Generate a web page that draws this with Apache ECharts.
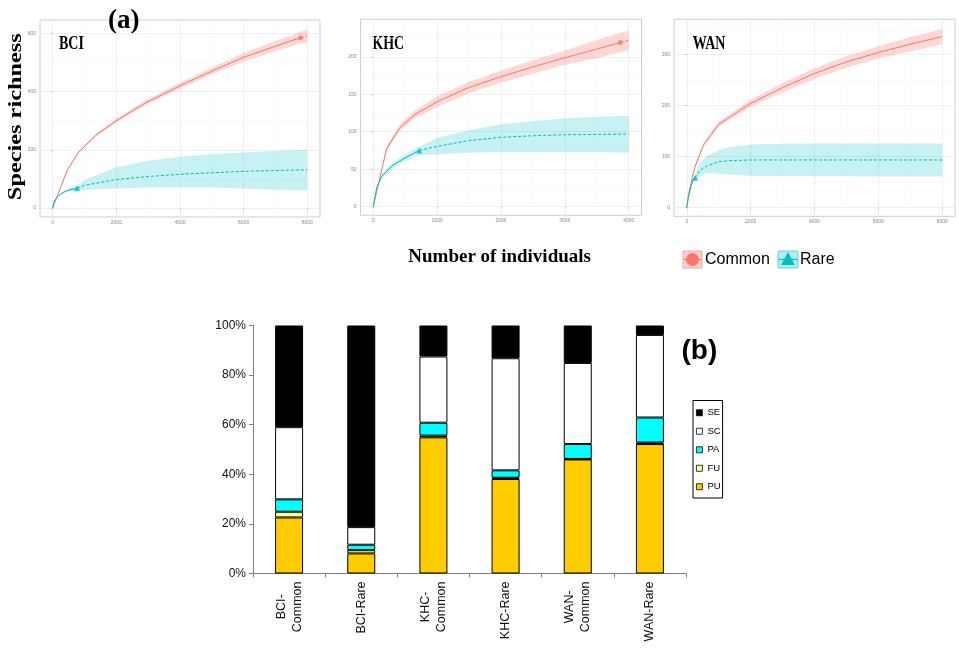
<!DOCTYPE html>
<html>
<head>
<meta charset="utf-8">
<script src="https://cdn.jsdelivr.net/npm/echarts@6/dist/echarts.min.js"></script>
<style>
  html, body { margin: 0; padding: 0; background: #fff; }
  #chart { width: 959px; height: 662px; }
</style>
</head>
<body>
<div id="chart"></div>
<script>
// ---------- (a) rarefaction / extrapolation of species richness ----------
// BCI
const bciCommonN   = [0, 452, 818, 1343, 2000, 2915, 4000, 5012, 6000, 7107, 7789, 8000];
const bciCommonEst = [0, 129, 192, 249, 300, 361, 420, 471, 518, 560, 585, 590];
const bciCommonLo  = [0, 126, 188, 244, 294, 353, 410, 459, 503, 542, 564, 567];
const bciCommonHi  = [0, 132, 196, 254, 306, 369, 430, 483, 533, 578, 606, 613];
const bciCommonObs = 7789;

const bciRareN   = [0, 31, 85, 242, 452, 767, 1000, 2000, 3000, 4000, 5000, 6000, 7000, 8000];
const bciRareEst = [0, 19, 31, 48, 60, 68, 78, 97.6, 108, 116, 121, 126, 129, 131];
const bciRareLo  = [0, 18, 29, 45, 56, 60, 62, 67, 70, 71, 70, 67, 63, 60];
const bciRareHi  = [0, 20, 33, 51, 64, 76, 96, 140, 162, 176, 185, 191, 196, 200];
const bciRareObs = 767;

// KHC
const khcCommonN   = [0, 209, 418, 653, 1000, 1488, 1984, 2480, 2999, 3495, 3869, 4000];
const khcCommonEst = [0, 77.7, 105.3, 123, 140, 158.7, 173, 186, 198.7, 210, 219, 222];
const khcCommonLo  = [0, 75, 101, 118, 133, 151, 165, 177, 189, 198, 206, 209];
const khcCommonHi  = [0, 80.5, 109.5, 128, 147, 166.5, 181, 195, 208.5, 222, 232, 235];
const khcCommonObs = 3869;

const khcRareN   = [0, 53, 131, 288, 496, 721, 1000, 1488, 1984, 2480, 2999, 3495, 4000];
const khcRareEst = [0, 25.3, 40.4, 54, 65, 75, 80.4, 88, 92.4, 94.6, 96, 96.4, 96.9];
const khcRareLo  = [0, 23.5, 37.5, 50.5, 60.5, 69, 69.5, 72, 73, 73, 73, 72.8, 72];
const khcRareHi  = [0, 27, 43, 57.5, 69.5, 80, 91.5, 101.5, 109.5, 114, 117.5, 120, 121];
const khcRareObs = 721;

// WAN
const wanCommonN   = [0, 50, 103, 260, 521, 1000, 2002, 3004, 3995, 5007, 5998, 6989, 8000];
const wanCommonEst = [0, 24, 40, 80, 122, 163, 204, 235, 262.6, 285.5, 303.9, 320, 335];
const wanCommonLo  = [0, 23, 38.5, 77, 119, 158, 197, 226, 252, 274, 292, 306, 320];
const wanCommonHi  = [0, 25, 41.5, 83, 126, 168, 211, 244, 273, 297, 316, 334, 350];
const wanCommonObs = null; // observed size lies beyond the plotted range

const wanRareN   = [0, 51, 124, 187, 261, 400, 625, 1000, 1355, 2002, 3000, 4000, 5000, 6000, 7000, 8000];
const wanRareEst = [0, 19, 38.7, 51.7, 58, 72, 81, 89.7, 91.7, 93, 93, 93, 93, 93, 93, 93];
const wanRareLo  = [0, 18, 36.5, 48.5, 53, 61, 68, 66, 64, 62, 61.5, 61.3, 61, 60.8, 60.7, 60.6];
const wanRareHi  = [0, 20, 41, 55, 63, 86, 101, 112, 118.4, 123.6, 125, 125.5, 125.5, 125.5, 125.5, 125.5];
const wanRareObs = 261;

// axis breaks of the three panels
const bciXTicks = [0, 2000, 4000, 6000, 8000];
const bciXMinor = [1000, 3000, 5000, 7000];
const bciYTicks = [0, 200, 400, 600];
const bciYMinor = [100, 300, 500];
const khcXTicks = [0, 1000, 2000, 3000, 4000];
const khcXMinor = [500, 1500, 2500, 3500];
const khcYTicks = [0, 50, 100, 150, 200];
const khcYMinor = [25, 75, 125, 175, 225];
const wanXTicks = [0, 2000, 4000, 6000, 8000];
const wanXMinor = [1000, 3000, 5000, 7000];
const wanYTicks = [0, 100, 200, 300];
const wanYMinor = [50, 150, 250, 350];

// ---------- (b) feeding-guild composition ----------
const barCategories = ['BCI-Common', 'BCI-Rare', 'KHC-Common', 'KHC-Rare', 'WAN-Common', 'WAN-Rare'];
const guildPU = [22.6, 8.1, 54.9, 38.1, 46.0, 52.2];
const guildFU = [2.3, 1.3, 0.7, 0.5, 0.2, 0.6];
const guildPA = [5.0, 2.2, 5.2, 3.0, 6.0, 10.1];
const guildSC = [29.1, 7.1, 26.7, 45.2, 32.7, 33.3];
const guildSE = [41.0, 81.3, 12.5, 13.2, 15.1, 3.8];
const percentTicks = [0, 20, 40, 60, 80, 100];

// ---------- styling ----------
const RED = '#F8766D';
const CYAN = '#00BFC4';
const SERIF = "'Liberation Serif', 'Times New Roman', serif";
const SANS = "'Liberation Sans', Arial, sans-serif";

const panels = [
  { name: 'BCI', grid: { left: 40, top: 20, width: 280, height: 197 },
    xRange: [-400, 8400], yRange: [-31, 646],
    xMajor: bciXTicks, xMinor: bciXMinor, yMajor: bciYTicks, yMinor: bciYMinor,
    common: { n: bciCommonN, est: bciCommonEst, lo: bciCommonLo, hi: bciCommonHi, obs: bciCommonObs },
    rare:   { n: bciRareN, est: bciRareEst, lo: bciRareLo, hi: bciRareHi, obs: bciRareObs },
    label: { x: 59, y: 43.7 } },
  { name: 'KHC', grid: { left: 360.5, top: 19.3, width: 281, height: 196 },
    xRange: [-200, 4200], yRange: [-11.5, 250],
    xMajor: khcXTicks, xMinor: khcXMinor, yMajor: khcYTicks, yMinor: khcYMinor,
    common: { n: khcCommonN, est: khcCommonEst, lo: khcCommonLo, hi: khcCommonHi, obs: khcCommonObs },
    rare:   { n: khcRareN, est: khcRareEst, lo: khcRareLo, hi: khcRareHi, obs: khcRareObs },
    label: { x: 372.3, y: 43.7 } },
  { name: 'WAN', grid: { left: 674, top: 19.3, width: 281, height: 197 },
    xRange: [-400, 8400], yRange: [-17.5, 369],
    xMajor: wanXTicks, xMinor: wanXMinor, yMajor: wanYTicks, yMinor: wanYMinor,
    common: { n: wanCommonN, est: wanCommonEst, lo: wanCommonLo, hi: wanCommonHi, obs: wanCommonObs },
    rare:   { n: wanRareN, est: wanRareEst, lo: wanRareLo, hi: wanRareHi, obs: wanRareObs },
    label: { x: 692.7, y: 43.7 } }
];

const grids = [];
const xAxes = [];
const yAxes = [];
const series = [];

// confidence band: one polygon built from the upper bound forwards and the lower bound backwards
function ribbonRenderer(fill) {
  return function (params, api) {
    if (params.dataIndexInside > 0) return null;
    const count = params.dataInsideLength;
    const upper = [];
    const lower = [];
    for (let i = 0; i < count; i++) {
      upper.push(api.coord([api.value(0, i), api.value(2, i)]));
      lower.push(api.coord([api.value(0, i), api.value(1, i)]));
    }
    return {
      type: 'polygon',
      shape: { points: upper.concat(lower.reverse()) },
      style: { fill: fill },
      silent: true
    };
  };
}

function lineSeries(axisIdx, data, color, dashed) {
  return {
    type: 'line', xAxisIndex: axisIdx, yAxisIndex: axisIdx,
    data: data, showSymbol: false, symbol: 'none', smooth: false,
    lineStyle: { color: color, width: 1, type: dashed ? [3, 2] : 'solid' },
    silent: true, z: 3
  };
}

// interpolated part solid, extrapolated part dashed, observed sample marked
function curveSeries(axisIdx, g, color, fill, symbol, symbolSize) {
  const pts = g.n.map((v, i) => [v, g.est[i]]);
  const band = g.n.map((v, i) => [v, g.lo[i], g.hi[i]]);
  const obsIdx = g.obs == null ? pts.length - 1 : g.n.indexOf(g.obs);
  const out = [];
  out.push({
    type: 'custom', xAxisIndex: axisIdx, yAxisIndex: axisIdx,
    data: band, encode: { x: 0, y: [1, 2] },
    renderItem: ribbonRenderer(fill), silent: true, z: 1
  });
  out.push(lineSeries(axisIdx, pts.slice(0, obsIdx + 1), color, false));
  if (obsIdx < pts.length - 1) out.push(lineSeries(axisIdx, pts.slice(obsIdx), color, true));
  if (g.obs != null) {
    out.push({
      type: 'scatter', xAxisIndex: axisIdx, yAxisIndex: axisIdx,
      data: [pts[obsIdx]], symbol: symbol, symbolSize: symbolSize,
      itemStyle: { color: color }, silent: true, z: 4
    });
  }
  return out;
}

const plainNumber = v => String(v);

panels.forEach((p, gi) => {
  grids.push(Object.assign({ show: true, borderColor: '#cfcfcf', borderWidth: 1, backgroundColor: '#fff' }, p.grid));
  const axisIdx = xAxes.length;
  // major breaks: ticks, labels, grid lines
  xAxes.push({
    type: 'value', gridIndex: gi, min: p.xRange[0], max: p.xRange[1], position: 'bottom',
    axisLine: { show: false },
    axisTick: { show: true, length: 2, customValues: p.xMajor, lineStyle: { color: '#bdbdbd', width: 0.8 } },
    axisLabel: { customValues: p.xMajor, formatter: plainNumber, fontSize: 5, color: '#888', margin: 3, fontFamily: SANS },
    splitLine: { show: true, lineStyle: { color: '#ebebeb', width: 0.8 } }
  });
  yAxes.push({
    type: 'value', gridIndex: gi, min: p.yRange[0], max: p.yRange[1], position: 'left',
    axisLine: { show: false },
    axisTick: { show: true, length: 2, customValues: p.yMajor, lineStyle: { color: '#bdbdbd', width: 0.8 } },
    axisLabel: { customValues: p.yMajor, formatter: plainNumber, fontSize: 5, color: '#888', margin: 4, fontFamily: SANS },
    splitLine: { show: true, lineStyle: { color: '#ebebeb', width: 0.8 } }
  });
  // minor breaks: grid lines only
  xAxes.push({
    type: 'value', gridIndex: gi, min: p.xRange[0], max: p.xRange[1],
    axisLine: { show: false },
    axisTick: { show: false, customValues: p.xMinor },
    axisLabel: { show: false },
    splitLine: { show: true, lineStyle: { color: '#f4f4f4', width: 0.5 } }
  });
  yAxes.push({
    type: 'value', gridIndex: gi, min: p.yRange[0], max: p.yRange[1],
    axisLine: { show: false },
    axisTick: { show: false, customValues: p.yMinor },
    axisLabel: { show: false },
    splitLine: { show: true, lineStyle: { color: '#f4f4f4', width: 0.5 } }
  });
  series.push(...curveSeries(axisIdx, p.common, RED, 'rgba(248,118,109,0.28)', 'circle', 5));
  series.push(...curveSeries(axisIdx, p.rare, CYAN, 'rgba(0,191,196,0.22)', 'triangle', 6));
});

// bar panel
const barGrid = grids.length;
const barAxis = xAxes.length;
grids.push({ left: 253, top: 325.5, width: 433, height: 248 });
xAxes.push({
  type: 'category', gridIndex: barGrid, data: barCategories,
  axisLine: { show: true, lineStyle: { color: '#7f7f7f', width: 1 } },
  axisTick: { show: true, length: 4, interval: 0, alignWithLabel: false, lineStyle: { color: '#7f7f7f' } },
  axisLabel: {
    interval: 0, rotate: 90, margin: 8,
    formatter: v => v.replace('-Common', '-\nCommon').split('\n').map(s => '{c|' + s + '}').join('\n'),
    rich: { c: { align: 'center', fontSize: 12.5, lineHeight: 16, fontFamily: SANS, color: '#111' } }
  }
});
yAxes.push({
  type: 'value', gridIndex: barGrid, min: percentTicks[0], max: percentTicks[percentTicks.length - 1], interval: 20,
  axisLine: { show: true, lineStyle: { color: '#7f7f7f', width: 1 } },
  axisTick: { show: true, length: 4, lineStyle: { color: '#7f7f7f' } },
  axisLabel: { formatter: '{value}%', fontSize: 12, color: '#111', margin: 7, fontFamily: SANS },
  splitLine: { show: false }
});

const guilds = [
  { name: 'PU', data: guildPU, color: '#FFCC00' },
  { name: 'FU', data: guildFU, color: '#FFFF99' },
  { name: 'PA', data: guildPA, color: '#00FFFF' },
  { name: 'SC', data: guildSC, color: '#FFFFFF' },
  { name: 'SE', data: guildSE, color: '#000000' }
];
guilds.forEach(g => {
  series.push({
    type: 'bar', name: g.name, stack: 'guild',
    xAxisIndex: barAxis, yAxisIndex: barAxis,
    data: g.data, barWidth: 28,
    itemStyle: { color: g.color, borderColor: '#000', borderWidth: 1 },
    silent: true
  });
});

const graphics = [
  { type: 'text', x: 108, y: 21, style: { text: '(a)', font: 'bold 27px ' + SERIF, fill: '#000', textAlign: 'left', textVerticalAlign: 'middle' } },
  { type: 'text', x: 16.5, y: 116.7, rotation: Math.PI / 2, scaleX: 1.28,
    style: { text: 'Species richness', font: 'bold 19px ' + SERIF, fill: '#000', textAlign: 'center', textVerticalAlign: 'middle' } },
  { type: 'text', x: 408.3, y: 257, style: { text: 'Number of individuals', font: 'bold 19px ' + SERIF, fill: '#000', textAlign: 'left', textVerticalAlign: 'middle' } },
  // key of the curves
  { type: 'rect', shape: { x: 683, y: 251, width: 19, height: 17 }, style: { fill: 'rgba(248,118,109,0.35)', stroke: '#f0a7a2', lineWidth: 1 } },
  { type: 'line', shape: { x1: 683.5, y1: 259.5, x2: 701.5, y2: 259.5 }, style: { stroke: RED, lineWidth: 1.2 } },
  { type: 'circle', shape: { cx: 692.5, cy: 259.5, r: 6.5 }, style: { fill: RED } },
  { type: 'text', x: 705, y: 260, style: { text: 'Common', font: '16px ' + SANS, fill: '#000', textAlign: 'left', textVerticalAlign: 'middle' } },
  { type: 'rect', shape: { x: 778, y: 251, width: 20, height: 17 }, style: { fill: 'rgba(0,191,196,0.3)', stroke: '#66d3d6', lineWidth: 1 } },
  { type: 'line', shape: { x1: 778.5, y1: 259.5, x2: 797.5, y2: 259.5 }, style: { stroke: CYAN, lineWidth: 1.2 } },
  { type: 'polygon', shape: { points: [[788, 252], [781, 265], [795, 265]] }, style: { fill: CYAN } },
  { type: 'text', x: 800, y: 260, style: { text: 'Rare', font: '16px ' + SANS, fill: '#000', textAlign: 'left', textVerticalAlign: 'middle' } },
  { type: 'text', x: 681.5, y: 351, style: { text: '(b)', font: 'bold 28px ' + SANS, fill: '#000', textAlign: 'left', textVerticalAlign: 'middle' } }
];
panels.forEach(p => {
  graphics.push({ type: 'text', x: p.label.x, y: p.label.y, scaleY: 1.35,
    style: { text: p.name, font: 'bold 14px ' + SERIF, fill: '#000', textAlign: 'left', textVerticalAlign: 'middle' } });
});

const option = {
  animation: false,
  backgroundColor: '#fff',
  grid: grids,
  xAxis: xAxes,
  yAxis: yAxes,
  legend: {
    orient: 'vertical', left: 693, top: 400.5,
    data: ['SE', 'SC', 'PA', 'FU', 'PU'],
    icon: 'rect', itemWidth: 6, itemHeight: 6, itemGap: 7,
    padding: [6.5, 2, 5.5, 3],
    borderColor: '#000', borderWidth: 1, backgroundColor: '#fff',
    itemStyle: { borderColor: '#000', borderWidth: 0.8 },
    textStyle: { fontSize: 9.5, lineHeight: 11.5, color: '#000', fontFamily: SANS },
    selectedMode: false
  },
  graphic: graphics,
  series: series
};

const chart = echarts.init(document.getElementById('chart'), null, { renderer: 'canvas' });
chart.setOption(option);
</script>
</body>
</html>
